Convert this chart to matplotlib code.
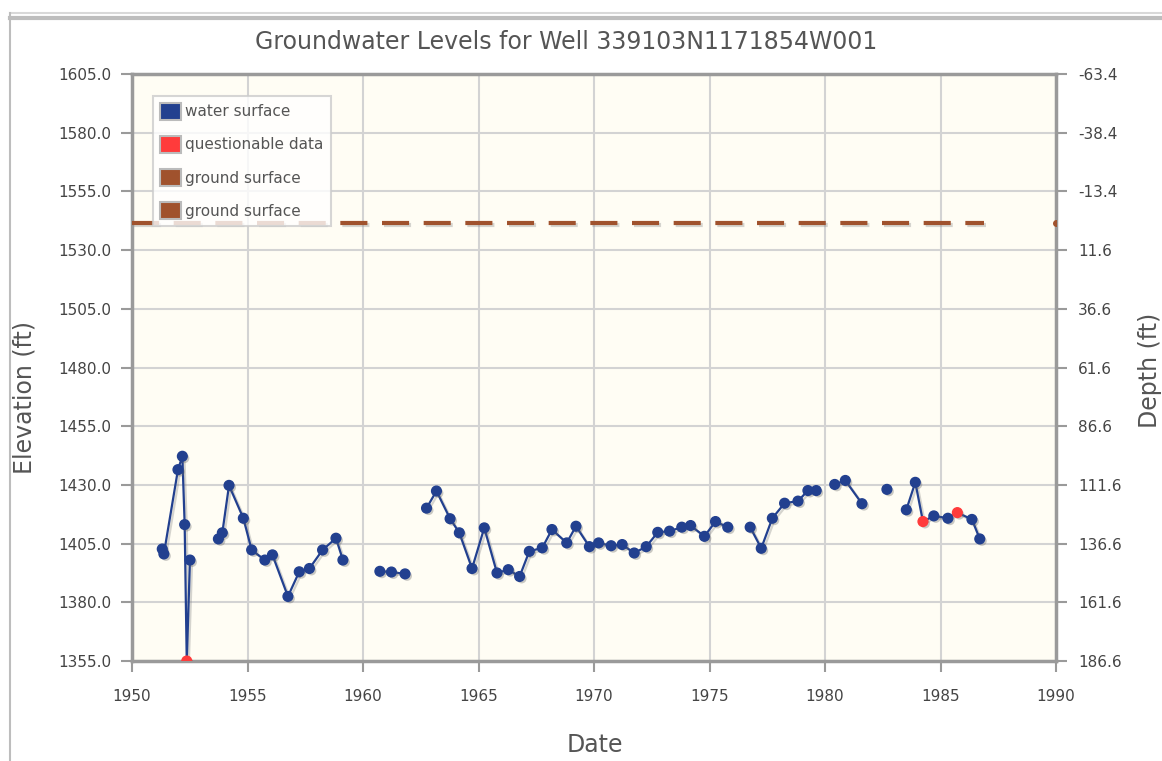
import numpy as np
import matplotlib
matplotlib.use("Agg")
import matplotlib.pyplot as plt
import matplotlib.patheffects as pe
from matplotlib.patches import Patch
from matplotlib.lines import Line2D

# === DATA ===
GROUND_SURFACE = 1541.6  # ft, elevation of ground at the well

years = [1951.31, 1951.38, 1951.99, 1952.18, 1952.28, 1952.37, 1952.51,
         1953.74, 1953.91, 1954.20, 1954.82, 1955.18, 1955.75, 1956.08,
         1956.75, 1957.24, 1957.68, 1958.25, 1958.83, 1959.13,
         1960.73, 1961.23, 1961.82,
         1962.75, 1963.18, 1963.77, 1964.17, 1964.72, 1965.25, 1965.80,
         1966.29, 1966.78, 1967.20, 1967.76, 1968.18, 1968.82, 1969.22,
         1969.80, 1970.20, 1970.74, 1971.22, 1971.74, 1972.26, 1972.76,
         1973.27, 1973.80, 1974.18, 1974.78, 1975.26, 1975.79,
         1976.76, 1977.24, 1977.72, 1978.25, 1978.83, 1979.26, 1979.62,
         1980.42, 1980.88, 1981.60,
         1982.68,
         1983.52, 1983.91, 1984.24, 1984.71, 1985.32, 1985.73, 1986.36, 1986.70]

elevation = [1402.7, 1400.6, 1436.5, 1442.2, 1413.1, 1355.0, 1398.0,
             1407.0, 1409.6, 1429.8, 1415.8, 1402.3, 1398.0, 1400.2,
             1382.5, 1393.0, 1394.4, 1402.3, 1407.3, 1398.0,
             1393.2, 1392.9, 1392.1,
             1420.1, 1427.4, 1415.6, 1409.6, 1394.4, 1411.7, 1392.5,
             1393.9, 1391.0, 1401.7, 1403.2, 1411.0, 1405.3, 1412.4,
             1403.7, 1405.3, 1404.1, 1404.6, 1401.0, 1403.7, 1409.8,
             1410.3, 1412.0, 1412.7, 1408.1, 1414.4, 1412.0,
             1412.0, 1403.0, 1415.8, 1422.2, 1423.1, 1427.6, 1427.6,
             1430.2, 1431.9, 1422.0,
             1428.1,
             1419.4, 1431.1, 1414.4, 1416.8, 1415.8, 1418.2, 1415.3, 1407.0]

# measurement runs (points in the same run are joined by a line)
segment = [0] * 7 + [1] * 13 + [2] * 3 + [3] * 27 + [4] * 7 + [5] * 3 + [6] + [7] * 8

# flagged readings
questionable = [False] * 69
for i in (5, 63, 66):
    questionable[i] = True

ground_years = [1950.0, 1986.9]
ground_years_2 = [1990.0]

# === STYLE ===
NAVY = "#22408f"
RED = "#ff3b3b"
BROWN = "#a0522d"
GRID = "#d3d3d3"
FRAME = "#9a9a9a"
TEXT = "#555555"

W, H = 1162, 761
fig = plt.figure(figsize=(W / 100, H / 100), dpi=100)
ax = fig.add_axes([132 / W, 1 - 661 / H, 924 / W, 587 / H])
ax.set_facecolor("#fffdf4")

yrs = np.array(years)
elev = np.array(elevation)
seg = np.array(segment)
qmask = np.array(questionable)

line_fx = [pe.SimpleLineShadow(offset=(1.5, -1.5), shadow_color="#888888", alpha=0.35), pe.Normal()]
mark_fx = [pe.SimplePatchShadow(offset=(1.5, -1.5), shadow_rgbFace="#666666", alpha=0.35), pe.Normal()]

# ground surface
ax.plot(ground_years, [GROUND_SURFACE] * 2, color=BROWN, lw=3, ls=(0, (6.5, 3.5)),
        solid_capstyle="butt", path_effects=line_fx, zorder=3)
ax.plot(ground_years_2, [GROUND_SURFACE], "o", color=BROWN, ms=4, zorder=3)

# water levels, one line per run
for s in np.unique(seg):
    m = seg == s
    ax.plot(yrs[m], elev[m], color=NAVY, lw=1.6, path_effects=line_fx, zorder=4)
ax.plot(yrs[~qmask], elev[~qmask], "o", color=NAVY, ms=7, mec=NAVY,
        path_effects=mark_fx, zorder=5)
ax.plot(yrs[qmask], elev[qmask], "o", color=RED, ms=7, mec=RED,
        path_effects=mark_fx, zorder=6)

# axes
ax.set_xlim(1950, 1990)
ax.set_ylim(1355, 1605)
ax.set_xticks(np.arange(1950, 1991, 5))
ax.set_yticks(np.arange(1355, 1606, 25))
ax.yaxis.set_major_formatter(matplotlib.ticker.FormatStrFormatter("%.1f"))
ax.grid(True, color=GRID, lw=1.5)
ax.set_axisbelow(True)
for sp in ax.spines.values():
    sp.set_color(FRAME)
    sp.set_linewidth(2.5)
ax.tick_params(axis="both", colors=FRAME, labelcolor="#444444", labelsize=11, length=8, width=1.5)
ax.tick_params(axis="x", pad=12)
ax.tick_params(axis="y", pad=7)

# depth below ground on the right
ax2 = ax.twinx()
ax2.set_ylim(GROUND_SURFACE - 1355, GROUND_SURFACE - 1605)
ax2.set_yticks(GROUND_SURFACE - np.arange(1355, 1606, 25))
ax2.yaxis.set_major_formatter(matplotlib.ticker.FormatStrFormatter("%.1f"))
for sp in ax2.spines.values():
    sp.set_visible(False)
ax2.tick_params(axis="y", colors=FRAME, labelcolor="#444444", labelsize=11, length=8, width=1.5, pad=8)

# legend
handles = [
    Patch(facecolor=NAVY, edgecolor="#bbbbbb", lw=1.5, label="water surface"),
    Patch(facecolor=RED, edgecolor="#bbbbbb", lw=1.5, label="questionable data"),
    Patch(facecolor=BROWN, edgecolor="#bbbbbb", lw=1.5, label="ground surface"),
    Patch(facecolor=BROWN, edgecolor="#bbbbbb", lw=1.5, label="ground surface"),
]
leg = ax.legend(handles=handles, loc="upper left", bbox_to_anchor=(0.023, 0.963),
                borderaxespad=0, fontsize=11, handlelength=1.35, handleheight=1.35,
                handletextpad=0.3, labelspacing=1.05, borderpad=0.45,
                frameon=True, fancybox=False, labelcolor=TEXT)
leg.get_frame().set_facecolor((1, 1, 1, 0.55))
leg.get_frame().set_edgecolor("#cccccc")
leg.get_frame().set_linewidth(1.5)
leg.set_zorder(10)

# titles
fig.text(566 / W, 1 - 42 / H, "Groundwater Levels for Well 339103N1171854W001",
         ha="center", va="center", fontsize=17, color=TEXT)
fig.text(25 / W, 1 - 397 / H, "Elevation (ft)", rotation=90, ha="center", va="center",
         fontsize=17, color=TEXT)
fig.text(1150 / W, 1 - 370 / H, "Depth (ft)", rotation=90, ha="center", va="center",
         fontsize=17, color=TEXT)
fig.text(595 / W, 1 - 745 / H, "Date", ha="center", va="center", fontsize=17, color=TEXT)

# page frame
fig.add_artist(Line2D([10 / W, 1], [1 - 13 / H] * 2, color="#d8d8d8", lw=1.5))
fig.add_artist(Line2D([10 / W, 1], [1 - 18 / H] * 2, color="#bdbdbd", lw=3))
fig.add_artist(Line2D([10 / W] * 2, [0, 1 - 13 / H], color="#bdbdbd", lw=1.5))

fig.savefig("out.png", dpi=100)
